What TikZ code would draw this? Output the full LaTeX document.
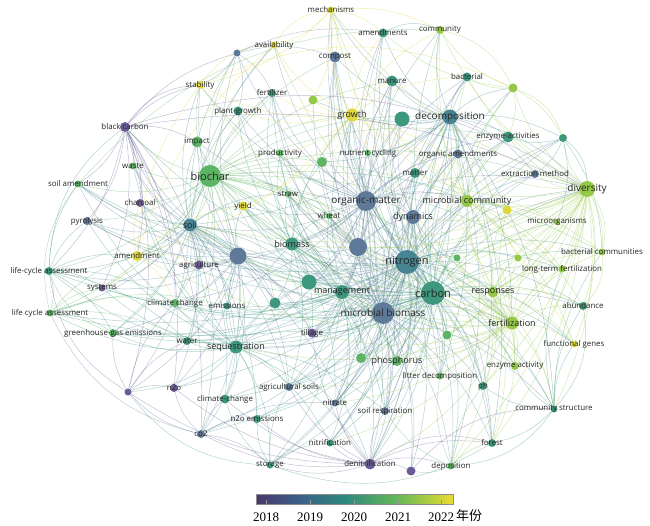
\documentclass[tikz,border=0pt]{standalone}
\usepackage{fontspec}
\setmainfont{Open Sans}
\newfontfamily\yearfont{Liberation Serif}
\newfontfamily\cjk{Noto Sans CJK SC}
\usetikzlibrary{backgrounds}
\definecolor{cP}{RGB}{108,92,150}
\definecolor{cB}{RGB}{95,122,152}
\definecolor{cBT}{RGB}{70,132,145}
\definecolor{cT}{RGB}{62,152,125}
\definecolor{cG}{RGB}{92,180,100}
\definecolor{cLG}{RGB}{150,200,72}
\definecolor{cY}{RGB}{222,214,60}
\definecolor{bar0}{RGB}{72,56,110}
\definecolor{bar1}{RGB}{60,96,135}
\definecolor{bar2}{RGB}{45,137,125}
\definecolor{bar3}{RGB}{105,186,85}
\definecolor{bar4}{RGB}{236,220,48}
\begin{document}
\begin{tikzpicture}[x=1pt,y=-1pt,
  dot/.style={circle,inner sep=0pt,draw=none},
  conn/.style={line width=0.5pt,opacity=0.4},
  lbls/.style={inner sep=0pt,text=black!85,font=\fontsize{7.9}{8}\selectfont},
  lblm/.style={inner sep=0pt,text=black!85,font=\fontsize{9}{9}\selectfont},
  lblb/.style={inner sep=0pt,text=black!85,font=\fontsize{10}{10}\selectfont},
  lblx/.style={inner sep=0pt,text=black!85,font=\fontsize{11}{12}\selectfont}]
\useasboundingbox (0,0) rectangle (650,526);
% ---- nodes
\foreach \n/\x/\y/\dd/\cc in {
mech/331/10/7/cY, avail/274/45/7/cY, uA/237/53/7/cB, compost/335/57/11/cB,
amends/383/33/9/cT, commun/440/30/8/cLG, manure/392/81/11/cT, bact/467/77/9/cT,
uB/513/88/9/cLG, stab/200/85/8/cY, fert/272/93/8/cT, uC/313/100/9/cLG,
pgrowth/238/111/9/cT, growth/352/115/13/cY, uD/402/119/15/cT, decomp/450/117/15/cBT,
enzacts/508/137/11/cT, uE/563/138/8/cT, bc/125/127/10/cP, impact/197/142/11/cG,
prod/280/153/7/cG, nutcyc/368/153/6/cG, orgam/458/154/9/cB, uF/322/162/10/cG,
waste/133/166/7/cG, biochar/210/176/22/cG, matter/415/173/10/cT, extr/535/174/8/cB,
soilam/78/184/7/cG, straw/288/194/6/cG, diversity/587/189/16/cLG, orgmat/366/201/20/cB,
microcom/467/201/12/cLG, charcoal/140/203/8/cP, yield/243/206/9/cY, uG/507/210/9/cY,
wheat/329/216/6/cG, dynamics/413/217/14/cB, pyro/87/221/8/cB, soil/190/225/13/cBT,
microorg/557/222/6/cLG, biomass/292/244/13/cT, uH/238/256/17/cB, uI/358/247/18/cB,
amendment/137/256/10/cY, bactcom/602/252/7/cLG, uJ/457/258/7/cG, uK/518/258/7/cLG,
nitrogen/407/262/24/cBT, agri/199/265/9/cP, ltf/562/269/7/cLG, lcaA/49/271/8/cT,
uL/309/282/15/cT, systems/102/288/7/cP, mgmt/342/292/14/cT, carbon/433/293/24/cT,
responses/493/292/11/cLG, climch/175/303/8/cG, emis/227/306/7/cT, uM/275/303/11/cT,
abund/583/306/8/cT, mbiom/383/313/22/cB, lcaB/50/313/7/cG, fertzn/512/323/13/cLG,
ghg/113/333/8/cG, tillage/312/333/9/cP, uN/447/335/9/cG, fgenes/574/344/7/cY,
water/187/341/8/cT, seq/236/347/13/cT, uO/361/358/10/cG, phos/397/361/10/cG,
enzact/515/366/8/cLG, litter/440/376/7/cG, ph/483/386/8/cT, ntwo/174/388/8/cP,
agsoils/289/387/8/cB, uP/128/392/7/cP, climchB/225/399/9/cT, nitrate/335/403/7/cB,
soilresp/385/411/8/cB, commstr/554/409/7/cT, ntwoem/257/419/8/cT, cotwo/201/434/8/cB,
nitrif/330/443/7/cT, forest/492/443/8/cT, storage/270/465/7/cT, denit/370/464/11/cP,
uQ/411/471/9/cP, depo/451/466/7/cG}
\node[dot,minimum size=\dd pt,fill=\cc] (\n) at (\x,\y) {};
% ---- labels
\foreach \n/\t/\f in {
mech/mechanisms/s, avail/availability/s, compost/compost/s, amends/amendments/s,
commun/community/s, manure/manure/s, bact/bacterial/s, stab/stability/s,
fert/fertilizer/s, pgrowth/plant-growth/s, growth/growth/m, decomp/decomposition/b,
enzacts/enzyme-activities/s, bc/black carbon/s, impact/impact/s, prod/productivity/s,
nutcyc/nutrient cycling/s, orgam/organic amendments/s, waste/waste/s, biochar/biochar/x,
matter/matter/s, extr/extraction method/s, soilam/soil amendment/s, straw/straw/s,
diversity/diversity/b, orgmat/organic-matter/b, microcom/microbial community/m,
charcoal/charcoal/s, yield/yield/s, wheat/wheat/s, dynamics/dynamics/m, pyro/pyrolysis/s,
soil/soil/m, microorg/microorganisms/s, biomass/biomass/m, amendment/amendment/s,
bactcom/bacterial communities/s, nitrogen/nitrogen/x, agri/agriculture/s,
ltf/long-term fertilization/s, lcaA/life-cycle assessment/s, systems/systems/s,
mgmt/management/m, carbon/carbon/x, responses/responses/m, climch/climate change/s,
emis/emissions/s, abund/abundance/s, mbiom/microbial biomass/b, lcaB/life cycle assessment/s,
fertzn/fertilization/m, ghg/greenhouse-gas emissions/s, tillage/tillage/s,
fgenes/functional genes/s, water/water/s, seq/sequestration/m, phos/phosphorus/m,
enzact/enzyme activity/s, litter/litter decomposition/s, ph/ph/s, ntwo/n2o/s,
agsoils/agricultural soils/s, climchB/climate-change/s, nitrate/nitrate/s,
soilresp/soil respiration/s, commstr/community structure/s, ntwoem/n2o emissions/s,
cotwo/co2/s, nitrif/nitrification/s, forest/forest/s, storage/storage/s,
denit/denitrification/s, depo/deposition/s}
\node[lbl\f] (\n-t) at (\n) {\t};
% ---- connectors
\begin{pgfonlayer}{background}
\foreach \h/\cc/\ts in {
biochar/cG/{soil,impact,pgrowth,stab,bc,waste,soilam,charcoal,pyro,yield,amendment,agri,prod,fert,avail,growth,orgmat,nitrogen,carbon,mbiom,seq,uH,uI,biomass,decomp,diversity,microcom,climch,ghg,lcaA,lcaB,water,uF,straw,fertzn,responses,mgmt,tillage,phos,emis,uM,uL,ltf,bactcom,manure,compost,enzacts,wheat,uA,systems},
nitrogen/cBT/{carbon,mbiom,orgmat,dynamics,decomp,matter,manure,compost,amends,growth,fertzn,diversity,bactcom,abund,ltf,microcom,responses,phos,litter,soilresp,nitrate,denit,depo,uQ,forest,nitrif,mgmt,tillage,seq,agsoils,ntwoem,ntwo,climchB,biomass,soil,uH,uI,agri,yield,wheat,straw,enzacts,orgam,uD,bact,commstr,ph,enzact,fgenes,uN,uO,uL,uM,storage,cotwo,uJ,uK,extr,uE,mech,ghg,lcaB,climch,water,pyro,soilam},
carbon/cT/{mbiom,orgmat,dynamics,decomp,matter,seq,storage,climchB,cotwo,ntwoem,mgmt,tillage,agsoils,phos,litter,forest,depo,denit,fertzn,diversity,responses,microcom,commstr,abund,bactcom,ltf,enzacts,uE,uB,bact,commun,amends,manure,compost,growth,soil,biomass,uH,uI,straw,wheat,yield,nutcyc,ph,enzact,uN,uO,uL,uM,soilresp,nitrif,nitrate,extr,orgam,microorg,fgenes,uG,uJ,lcaA,lcaB,ghg,pyro,charcoal,soilam,water,climch,emis,bc,systems},
mbiom/cB/{orgmat,dynamics,decomp,matter,manure,compost,amends,enzacts,extr,orgam,diversity,microcom,fertzn,responses,abund,commstr,ph,enzact,forest,depo,denit,uQ,nitrate,soilresp,nitrif,tillage,agsoils,mgmt,seq,soil,biomass,uH,uI,straw,wheat,pgrowth,fert,growth,uD,uC,bact,uB,uE,litter,phos,storage},
orgmat/cB/{decomp,matter,dynamics,manure,compost,amends,growth,uD,bact,commun,enzacts,orgam,microcom,uG,diversity,soil,biomass,uH,uI,mgmt,seq,tillage,agri,climch,agsoils,nitrate,soilresp,litter,phos,uO,uL,uM,yield,prod,impact,uF,nutcyc,fert,pgrowth,mech,avail,uA,stab},
decomp/cBT/{matter,uD,manure,bact,amends,commun,enzacts,uE,uB,orgam,extr,diversity,microcom,litter,forest,depo,ph,commstr,fertzn,dynamics,nutcyc,growth,compost,mech,uC,uF,soil,biomass,uI,nitrif,denit},
diversity/cLG/{bactcom,microorg,ltf,abund,fgenes,commstr,enzacts,uE,uB,bact,commun,microcom,uG,uK,uJ,responses,fertzn,enzact,ph,forest,extr,orgam,matter,dynamics,mech,depo,litter,nitrogen,mbiom,soil,biomass,uI,mgmt,phos,uO,uN},
fertzn/cLG/{responses,abund,fgenes,enzact,ph,ltf,bactcom,microorg,uK,uJ,uN,microcom,uG,commstr,forest,phos,yield,growth,mgmt,dynamics,soil,prod,wheat,straw,uO,amendment,stab,avail,commun,mech,seq,agsoils,nitrate,denit,nitrif,tillage},
soil/cBT/{pyro,charcoal,bc,soilam,waste,amendment,agri,systems,lcaA,lcaB,ghg,climch,water,seq,emis,uH,uP,ntwo,cotwo,tillage,impact,pgrowth,stab,avail,uA,fert,yield,straw,mgmt,uL,uM,climchB,agsoils,ntwoem,denit},
seq/cT/{climch,climchB,agsoils,ntwoem,storage,cotwo,ntwo,water,emis,ghg,lcaA,lcaB,tillage,uM,uL,mgmt,agri,uH,systems,uP,nitrif,nitrate,soilresp,denit,biomass,pyro,charcoal,soilam,waste},
uH/cB/{agri,amendment,charcoal,pyro,bc,systems,lcaA,ghg,climch,emis,water,uP,ntwo,cotwo,climchB,tillage,agsoils,mgmt,uL,uM,yield,impact,soilam,waste,stab,uA},
uI/cB/{dynamics,matter,manure,compost,wheat,straw,biomass,mgmt,uL,tillage,nitrate,soilresp,denit,uQ,decomp,prod,growth,fert,uF,uD},
mgmt/cT/{uL,uM,tillage,agsoils,nitrate,nitrif,soilresp,denit,storage,phos,uO,yield,prod,wheat,straw,growth,fert,emis,water,ghg,climch,uN,litter},
biomass/cT/{wheat,straw,yield,prod,uF,growth,fert,pgrowth,impact,uL,uM,tillage,agsoils,nitrate,soilresp,phos,uO},
growth/cY/{mech,avail,stab,fert,uC,pgrowth,prod,compost,amends,manure,commun,bact,uF,nutcyc,yield,amendment,microcom,uG,responses,fgenes},
bc/cP/{charcoal,pyro,waste,soilam,stab,uA,agri,systems,lcaA,ntwo,uP,cotwo,climch,amendment,impact,diversity},
denit/cP/{nitrif,nitrate,ntwoem,uQ,depo,soilresp,forest,agsoils,ntwo,cotwo,tillage,uP,storage,climchB},
microcom/cLG/{bact,uB,enzacts,extr,orgam,uG,microorg,bactcom,ltf,uK,uJ,responses,abund,fgenes,enzact,commun,mech},
responses/cLG/{uJ,uK,uN,enzact,fgenes,abund,ph,commstr,ltf,bactcom,uG,microorg,forest,depo},
dynamics/cB/{matter,orgam,manure,compost,uD,tillage,nitrate,soilresp,litter,uL,uO,phos,denit,forest},
lcaA/cT/{lcaB,ghg,systems,soilam,pyro,water,climch,amendment},
lcaB/cG/{ghg,water,systems,climch,emis,amendment},
cotwo/cB/{uP,ntwo,climchB,ntwoem,storage,nitrate},
uP/cP/{ntwo,climch,water,ghg},
commstr/cT/{abund,forest,ph,enzact,fgenes,ltf,bactcom},
depo/cG/{forest,litter,uQ,ph,soilresp},
mech/cY/{avail,amends,compost,commun,uC,stab},
uA/cB/{avail,compost,stab,fert,pgrowth,amends},
uB/cLG/{bact,enzacts,commun,amends,uE},
uE/cT/{enzacts,extr,microorg,bactcom},
storage/cT/{ntwoem,nitrif,climchB,agsoils},
amendment/cY/{charcoal,agri,yield,systems,climch,stab,avail}}{
\foreach \t in \ts {\draw[conn,draw=\cc] (\h) to[bend left=16] (\t);}
}
% long outer arcs
\foreach \a/\b/\cc in {bc/diversity/cP, stab/uB/cY, soilam/commun/cG, lcaA/bc/cT, uP/lcaA/cP, cotwo/lcaB/cB, storage/uP/cT, forest/storage/cT, commstr/depo/cT, abund/commstr/cT, bactcom/abund/cLG, diversity/bactcom/cLG, uE/diversity/cT, uB/uE/cLG, commun/uB/cLG, amends/commun/cT, avail/mech/cY, stab/avail/cY, bc/stab/cP, denit/forest/cP, uQ/commstr/cP, lcaB/soilam/cG, ghg/lcaA/cG}
\draw[conn,draw=\cc] (\a) to[bend left=25] (\b);
\end{pgfonlayer}
% ---- colour bar
\shade[left color=bar0,right color=bar1] (256,494) rectangle (300,504);
\shade[left color=bar1,right color=bar2] (300,494) rectangle (345,504);
\shade[left color=bar2,right color=bar3] (345,494) rectangle (400,504);
\shade[left color=bar3,right color=bar4] (400,494) rectangle (453,504);
\draw[black!45,line width=0.5pt] (256,494) rectangle (453,504);
\foreach \x/\yr in {266/2018,310/2019,354/2020,398/2021,441/2022}{
  \draw[black!40,line width=0.5pt] (\x,504) -- (\x,500);
  \node[font=\yearfont\fontsize{13}{14}\selectfont,inner sep=0pt] (yr\yr) at (\x,517) {\yr};
}
\node[font=\cjk\fontsize{13}{14}\selectfont,inner sep=0pt,anchor=west] (nianfen) at (456,516) {年份};
\end{tikzpicture}
\end{document}
